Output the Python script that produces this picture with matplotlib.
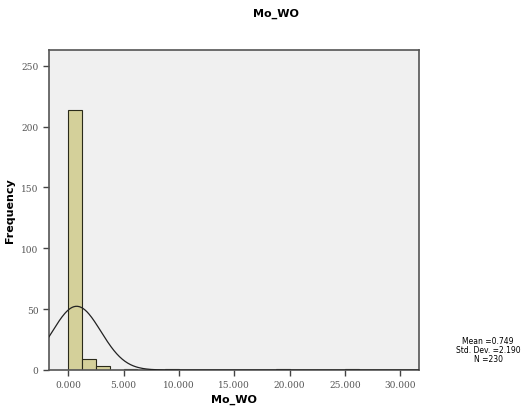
import matplotlib.pyplot as plt
import numpy as np

# histogram bins (width 1.25, starting at 0) and counts
bin_edges = np.arange(0, 31.25 + 0.001, 1.25)
bin_counts = [214, 9, 3, 0, 1, 0, 0, 1, 0, 0, 0, 0, 0, 0, 0, 1, 0, 0, 0, 0, 1, 0, 0, 0, 0]
mean_val = 0.749
std_val = 2.190
n_obs = 230

x_ticks = [0, 5, 10, 15, 20, 25, 30]
y_ticks = [0, 50, 100, 150, 200, 250]

fig = plt.figure(figsize=(5.28, 4.14), dpi=100)
ax = fig.add_axes([49 / 528, 43 / 414, 370 / 528, 320 / 414])
ax.set_facecolor('#f0f0f0')

ax.bar(bin_edges[:-1], bin_counts, width=1.25, align='edge',
       color='#d4d09a', edgecolor='#2a2a1a', linewidth=0.8, zorder=2)

xs = np.linspace(-1.75, 31.7, 400)
curve = n_obs * 1.25 / (std_val * np.sqrt(2 * np.pi)) * np.exp(-0.5 * ((xs - mean_val) / std_val) ** 2)
ax.plot(xs, curve, color='#222222', linewidth=0.9, zorder=3)

ax.set_xlim(-1.75, 31.7)
ax.set_ylim(0, 263)
ax.set_xticks(x_ticks)
ax.set_xticklabels([f"{v:.3f}" for v in x_ticks])
ax.set_yticks(y_ticks)
for s in ax.spines.values():
    s.set_color('#555555')
    s.set_linewidth(1.2)
ax.tick_params(axis='both', labelsize=6.5, colors='#444444', length=4, width=1,
               direction='out')
for lbl in ax.get_xticklabels() + ax.get_yticklabels():
    lbl.set_family('DejaVu Serif')
    lbl.set_color('#555555')

ax.set_xlabel('Mo_WO', fontsize=8, fontweight='bold', labelpad=3)
ax.set_ylabel('Frequency', fontsize=8, fontweight='bold')
ax.yaxis.set_label_coords(-34 / 370, 0.5)

fig.text(276 / 528, 1 - 14 / 414, 'Mo_WO', ha='center', va='center',
         fontsize=8, fontweight='bold')
fig.text(488 / 528, 1 - 351 / 414,
         f"Mean ={mean_val:.3f}\nStd. Dev. ={std_val:.3f}\nN ={n_obs}",
         ha='center', va='center', fontsize=5.5, linespacing=1.0)

fig.savefig('out.png', dpi=100)
